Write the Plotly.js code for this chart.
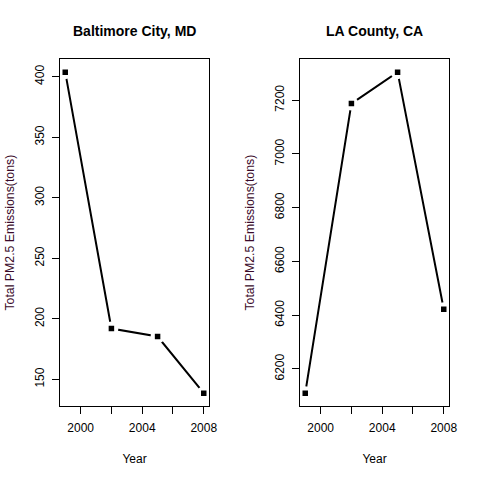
<!DOCTYPE html>
<html>
<head>
<meta charset="utf-8">
<script src="https://cdn.plot.ly/plotly-3.0.1.min.js"></script>
<style>html,body{margin:0;padding:0;background:#fff;}#chart{width:480px;height:480px;}</style>
</head>
<body>
<div id="chart"></div>
<script>
const years = [1999, 2002, 2005, 2008];
const baltimore = [403.8, 192.0, 185.4, 138.6];
const laCounty = [6110, 7187, 7304, 6422];
const panelTitles = ["Baltimore City, MD", "LA County, CA"];
const xTickVals = [2000, 2002, 2004, 2006, 2008];
const xTickText = ["2000", "", "2004", "", "2008"];
const yTicksBalt = [150, 200, 250, 300, 350, 400];
const yTicksLA = [6200, 6400, 6600, 6800, 7000, 7200];
const xLabel = "Year";
const yLabel = "Total PM2.5 Emissions(tons)";

function rng(v) {
  const lo = Math.min(...v), hi = Math.max(...v), d = (hi - lo) * 0.04;
  return [lo - d, hi + d];
}

function seriesTraces(y, xa, ya) {
  return [
    {x: years, y: y, xaxis: xa, yaxis: ya, type: 'scatter', mode: 'lines',
     line: {color: '#000', width: 2}, hoverinfo: 'skip'},
    {x: years, y: y, xaxis: xa, yaxis: ya, type: 'scatter', mode: 'markers',
     marker: {symbol: 'circle', size: 14, color: '#fff', line: {width: 0}}, hoverinfo: 'skip'},
    {x: years, y: y, xaxis: xa, yaxis: ya, type: 'scatter', mode: 'markers',
     marker: {symbol: 'square', size: 5.5, color: '#000', line: {width: 0}}}
  ];
}

const data = [...seriesTraces(baltimore, 'x', 'y'), ...seriesTraces(laCounty, 'x2', 'y2')];

const font = {family: 'Liberation Sans, Arial, sans-serif', size: 12, color: '#000'};
const titleColor = '#3a0a2a';

function xAxis(domain, anchor) {
  return {domain: domain, anchor: anchor, range: rng(years), tickvals: xTickVals, ticktext: xTickText,
    ticks: 'outside', ticklen: 7, tickwidth: 1, tickcolor: '#000', showline: true, mirror: true,
    linecolor: '#000', linewidth: 1, showgrid: false, zeroline: false, tickfont: font,
    ticklabelstandoff: 4, title: {text: xLabel, font: font, standoff: 20}};
}
function yAxis(domain, anchor, y, ticks) {
  return {domain: domain, anchor: anchor, range: rng(y), tickvals: ticks,
    ticks: 'outside', ticklen: 7, tickwidth: 1, tickcolor: '#000', showline: true, mirror: true,
    linecolor: '#000', linewidth: 1, showgrid: false, zeroline: false, tickfont: font,
    tickangle: -90, ticklabelstandoff: 3,
    title: {text: yLabel, font: {family: font.family, size: 12.3, color: titleColor}, standoff: 15}};
}

const yDom = [1 - 406 / 480, 1 - 59.3 / 480];
const x1Dom = [59.7 / 480, 209.3 / 480];
const x2Dom = [299.7 / 480, 449.3 / 480];

const layout = {
  width: 480, height: 480, margin: {l: 0, r: 0, t: 0, b: 0},
  paper_bgcolor: '#fff', plot_bgcolor: '#fff', showlegend: false, font: font,
  xaxis: xAxis(x1Dom, 'y'), yaxis: yAxis(yDom, 'x', baltimore, yTicksBalt),
  xaxis2: xAxis(x2Dom, 'y2'), yaxis2: yAxis(yDom, 'x2', laCounty, yTicksLA),
  annotations: [
    {text: panelTitles[0], xref: 'paper', yref: 'paper', x: (x1Dom[0] + x1Dom[1]) / 2, y: 1 - 31 / 480,
     xanchor: 'center', yanchor: 'middle', showarrow: false,
     font: {family: font.family, size: 14, color: '#000', weight: 'bold'}},
    {text: panelTitles[1], xref: 'paper', yref: 'paper', x: (x2Dom[0] + x2Dom[1]) / 2, y: 1 - 31 / 480,
     xanchor: 'center', yanchor: 'middle', showarrow: false,
     font: {family: font.family, size: 14, color: '#000', weight: 'bold'}}
  ]
};

Plotly.newPlot('chart', data, layout, {displayModeBar: false, staticPlot: true});
</script>
</body>
</html>
